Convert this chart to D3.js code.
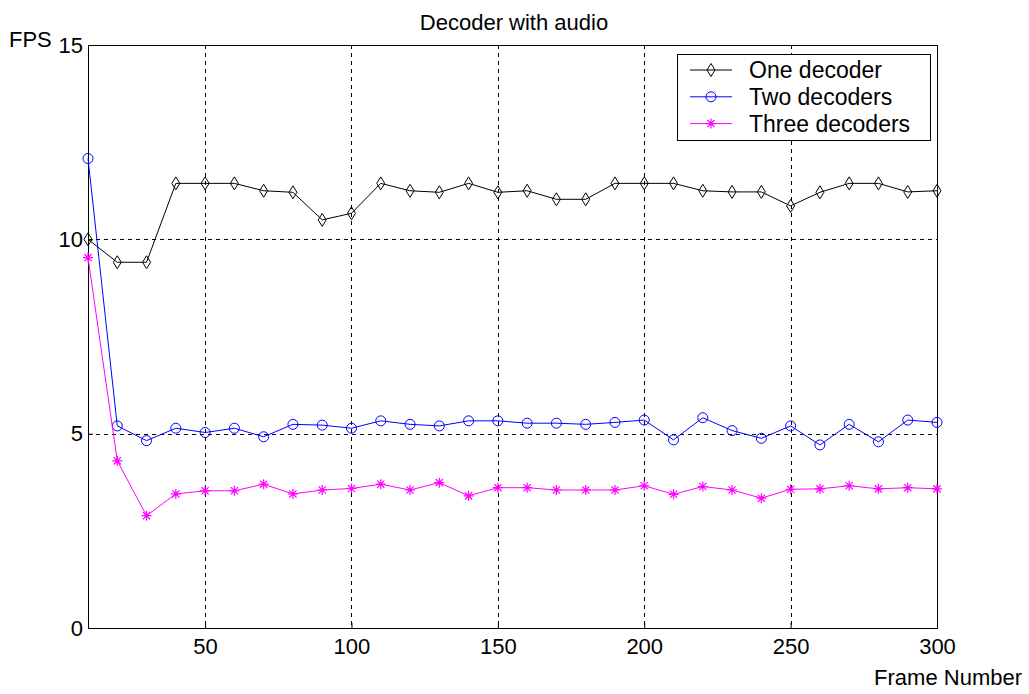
<!DOCTYPE html>
<html>
<head>
<meta charset="utf-8">
<script src="https://cdn.jsdelivr.net/npm/d3@7"></script>
<style>
  html, body { margin: 0; padding: 0; background: #fff; }
  svg { display: block; font-family: "Liberation Sans", Arial, sans-serif; }
</style>
</head>
<body>
<svg id="chart" width="1029" height="694"></svg>
<script>
// Frame numbers sampled every 10 frames
const frames = [10,20,30,40,50,60,70,80,90,100,110,120,130,140,150,160,170,180,190,200,
                210,220,230,240,250,260,270,280,290,300];

// Frames per second for each decoder configuration
const oneDecoder = [10.0,9.41,9.41,11.44,11.44,11.44,11.25,11.21,10.50,10.67,
                    11.44,11.25,11.21,11.44,11.21,11.25,11.03,11.03,11.44,11.44,
                    11.44,11.25,11.22,11.22,10.86,11.21,11.44,11.44,11.22,11.25];
const twoDecoders = [12.08,5.20,4.82,5.14,5.03,5.14,4.92,5.24,5.22,5.14,
                     5.33,5.24,5.20,5.33,5.33,5.27,5.27,5.24,5.29,5.35,
                     4.84,5.41,5.08,4.88,5.20,4.71,5.24,4.79,5.35,5.29];
const threeDecoders = [9.53,4.30,2.89,3.45,3.53,3.53,3.70,3.45,3.55,3.59,
                       3.70,3.55,3.74,3.40,3.61,3.61,3.55,3.55,3.55,3.66,
                       3.44,3.64,3.55,3.34,3.57,3.58,3.66,3.58,3.61,3.58];

const seriesNames = ["One decoder", "Two decoders", "Three decoders"];
const xTicks = [50,100,150,200,250,300];
const yTicks = [0,5,10,15];

const series = [
  { name: seriesNames[0], values: oneDecoder, color: "#000000", marker: "diamond" },
  { name: seriesNames[1], values: twoDecoders, color: "#0000ff", marker: "circle" },
  { name: seriesNames[2], values: threeDecoders, color: "#ff00ff", marker: "star" }
];

const svg = d3.select("#chart");
const plot = { left: 88, right: 937, top: 45, bottom: 628 };

const x = d3.scaleLinear().domain([10, 300]).range([plot.left, plot.right]);
const y = d3.scaleLinear().domain([0, 15]).range([plot.bottom, plot.top]);

// Dotted grid
const grid = svg.append("g").attr("stroke", "#000").attr("stroke-width", 1)
  .attr("stroke-dasharray", "4,4").attr("shape-rendering", "crispEdges");
xTicks.filter(t => t < 300).forEach(t => {
  grid.append("line").attr("x1", Math.round(x(t)) + 0.5).attr("x2", Math.round(x(t)) + 0.5)
    .attr("y1", plot.top).attr("y2", plot.bottom);
});
yTicks.filter(t => t > 0 && t < 15).forEach(t => {
  grid.append("line").attr("y1", Math.round(y(t)) + 0.5).attr("y2", Math.round(y(t)) + 0.5)
    .attr("x1", plot.left).attr("x2", plot.right);
});

// Axes (ticks pointing inward, box frame)
const xAxis = svg.append("g").attr("transform", `translate(0,${plot.bottom})`)
  .call(d3.axisBottom(x).tickValues(xTicks).tickSizeInner(-5).tickSizeOuter(0).tickPadding(10));
const yAxis = svg.append("g").attr("transform", `translate(${plot.left},0)`)
  .call(d3.axisLeft(y).tickValues(yTicks).tickSizeInner(-5).tickSizeOuter(0).tickPadding(5));
[xAxis, yAxis].forEach(a => {
  a.select(".domain").remove();
  a.selectAll("line").attr("stroke", "#000");
  a.selectAll("text").attr("font-size", 22).attr("fill", "#000")
    .attr("font-family", "Liberation Sans, Arial, sans-serif");
});

svg.append("rect").attr("x", plot.left + 0.5).attr("y", plot.top + 0.5)
  .attr("width", plot.right - plot.left).attr("height", plot.bottom - plot.top)
  .attr("fill", "none").attr("stroke", "#000").attr("stroke-width", 1)
  .attr("shape-rendering", "crispEdges");

// Titles
svg.append("text").attr("x", 514).attr("y", 30).attr("text-anchor", "middle")
  .attr("font-size", 22).text("Decoder with audio");
svg.append("text").attr("x", 9).attr("y", 47).attr("font-size", 22).text("FPS");
svg.append("text").attr("x", 1022).attr("y", 685)
  .attr("text-anchor", "end").attr("font-size", 22).text("Frame Number");

// Marker shapes
const diamondPath = "M0,-6.5L4,0L0,6.5L-4,0Z";
const starPath = "M-5,0L5,0M0,-5L0,5M-3.6,-3.6L3.6,3.6M-3.6,3.6L3.6,-3.6";

function drawMarker(g, type, color) {
  if (type === "diamond") {
    g.append("path").attr("d", diamondPath).attr("fill", "none").attr("stroke", color).attr("stroke-width", 1);
  } else if (type === "circle") {
    g.append("circle").attr("r", 5).attr("fill", "none").attr("stroke", color).attr("stroke-width", 1);
  } else {
    g.append("path").attr("d", starPath).attr("fill", "none").attr("stroke", color).attr("stroke-width", 1.2);
  }
}

const line = d3.line().x((d, i) => x(frames[i])).y(d => y(d));

series.forEach(s => {
  const g = svg.append("g");
  g.append("path").datum(s.values).attr("d", line)
    .attr("fill", "none").attr("stroke", s.color).attr("stroke-width", 1);
  s.values.forEach((v, i) => {
    const m = g.append("g").attr("transform", `translate(${x(frames[i])},${y(v)})`);
    drawMarker(m, s.marker, s.color);
  });
});

// Legend
const legend = svg.append("g");
legend.append("rect").attr("x", 677.5).attr("y", 54.5).attr("width", 253).attr("height", 86)
  .attr("fill", "#fff").attr("stroke", "#000").attr("stroke-width", 1);
series.forEach((s, i) => {
  const cy = 70 + i * 26.8;
  legend.append("line").attr("x1", 690).attr("x2", 732).attr("y1", cy).attr("y2", cy)
    .attr("stroke", s.color).attr("stroke-width", 1);
  const m = legend.append("g").attr("transform", `translate(711,${cy})`);
  drawMarker(m, s.marker, s.color);
  legend.append("text").attr("x", 749).attr("y", cy).attr("dy", "0.36em")
    .attr("font-size", 23).text(s.name);
});
</script>
</body>
</html>
